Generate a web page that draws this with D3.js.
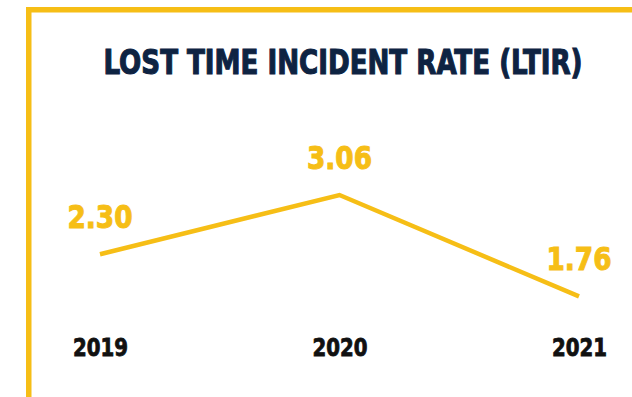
<!DOCTYPE html>
<html>
<head>
<meta charset="utf-8">
<script src="https://cdn.jsdelivr.net/npm/d3@7"></script>
<style>
  html, body { margin: 0; padding: 0; background: #ffffff; }
  svg { display: block; }
</style>
</head>
<body>
<svg id="chart" width="632" height="397"></svg>
<script>
const title = "LOST TIME INCIDENT RATE (LTIR)";
const years = ["2019", "2020", "2021"];
const ltir = [2.30, 3.06, 1.76];
const valueLabels = ["2.30", "3.06", "1.76"];

const W = 632, H = 397;
const yellow = "#F6BE16";
const navy = "#0E2342";
const font = "'DejaVu Sans Condensed', 'DejaVu Sans', sans-serif";

const svg = d3.select("#chart");

// frame
svg.append("rect").attr("x", 26).attr("y", 7).attr("width", W - 26).attr("height", 5.5).attr("fill", yellow);
svg.append("rect").attr("x", 26).attr("y", 7).attr("width", 5.5).attr("height", H - 7).attr("fill", yellow);

// title
svg.append("text")
  .attr("x", 103.5).attr("y", 74)
  .attr("textLength", 479).attr("lengthAdjust", "spacingAndGlyphs")
  .attr("font-family", font).attr("font-weight", "bold").attr("font-size", 34)
  .attr("fill", navy).attr("stroke", navy).attr("stroke-width", 1.1)
  .text(title);

const x = d3.scalePoint().domain(years).range([100, 579]);
const y = d3.scaleLinear().domain([0, 4]).range([433.7, 121.7]);

const data = years.map((yr, i) => ({ yr, v: ltir[i], label: valueLabels[i] }));

svg.append("path")
  .datum(data)
  .attr("fill", "none")
  .attr("stroke", yellow)
  .attr("stroke-width", 4.5)
  .attr("d", d3.line().x(d => x(d.yr)).y(d => y(d.v)));

svg.selectAll(".val").data(data).enter().append("text")
  .attr("class", "val")
  .attr("x", d => x(d.yr) - 32.5)
  .attr("y", d => y(d.v) - 26.5)
  .attr("textLength", 65).attr("lengthAdjust", "spacingAndGlyphs")
  .attr("font-family", font).attr("font-weight", "bold").attr("font-size", 32.5)
  .attr("fill", yellow).attr("stroke", yellow).attr("stroke-width", 1)
  .text(d => d.label);

// x axis labels via d3 axis
const axis = svg.append("g").attr("transform", "translate(0,356)")
  .call(d3.axisBottom(x).tickSize(0).tickPadding(0));
axis.select(".domain").remove();
axis.selectAll("text")
  .attr("dy", 0).attr("y", 0)
  .attr("textLength", 55).attr("lengthAdjust", "spacingAndGlyphs")
  .attr("font-family", font).attr("font-weight", "bold").attr("font-size", 24.5)
  .attr("fill", "#111111").attr("stroke", "#111111").attr("stroke-width", 0.8);
</script>
</body>
</html>
